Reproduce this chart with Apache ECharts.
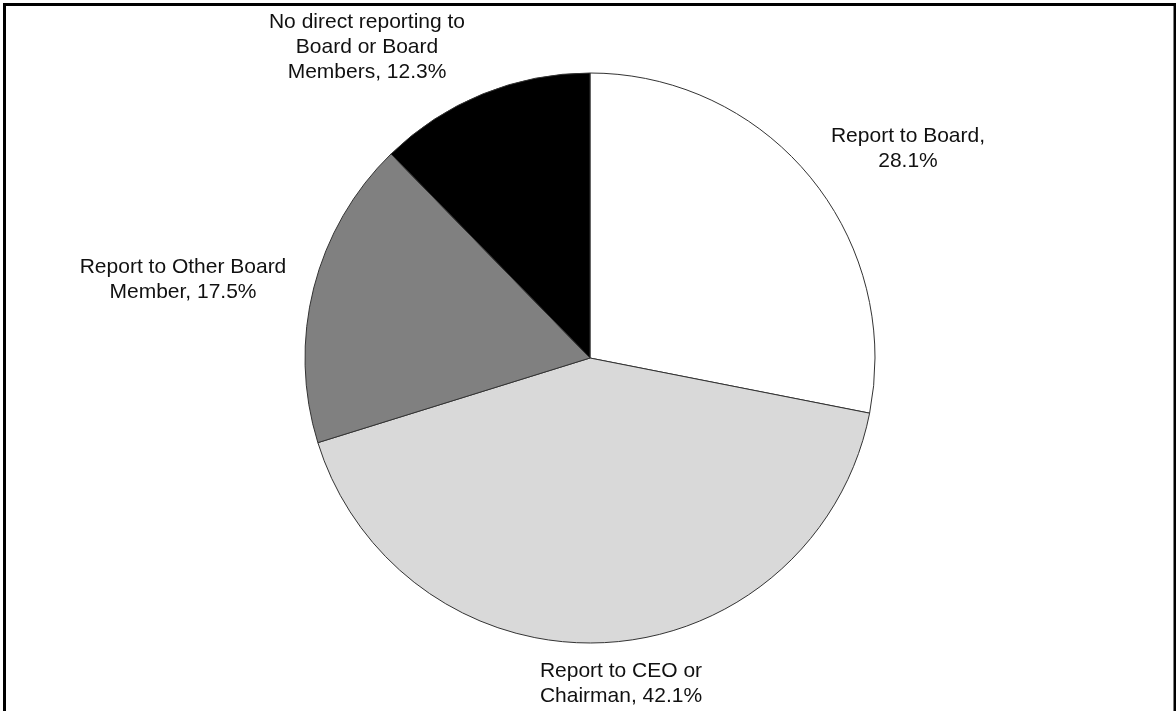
<!DOCTYPE html>
<html>
<head>
<meta charset="utf-8">
<script src="https://cdn.jsdelivr.net/npm/echarts@6/dist/echarts.min.js"></script>
<style>
html,body{margin:0;padding:0;background:#fff;}
#chart{width:1176px;height:711px;}
</style>
</head>
<body>
<div id="chart"></div>
<script>
// Data
var categories = [
  'Report to Board',
  'Report to CEO or Chairman',
  'Report to Other Board Member',
  'No direct reporting to Board or Board Members'
];
var values = [28.1, 42.1, 17.5, 12.3];
// Label text broken into lines as in the reference (value appended)
var labelPrefixes = [
  'Report to Board,\n',
  'Report to CEO or\nChairman, ',
  'Report to Other Board\nMember, ',
  'No direct reporting to\nBoard or Board\nMembers, '
];

// Styles
var sliceColors = ['#ffffff', '#d9d9d9', '#808080', '#000000'];
var labelSpots = [[908, 149], [621, 684], [183, 280], [367, 47]];

var chart = echarts.init(document.getElementById('chart'), null, {renderer: 'canvas'});
var option = {
  animation: false,
  backgroundColor: '#ffffff',
  graphic: [{
    type: 'rect',
    shape: {x: 4.5, y: 4.5, width: 1170.5, height: 800},
    style: {fill: 'none', stroke: '#000', lineWidth: 3},
    silent: true
  }],
  series: [{
    type: 'pie',
    center: [590, 358],
    radius: 285,
    startAngle: 90,
    clockwise: true,
    avoidLabelOverlap: false,
    data: categories.map(function (c, i) {
      return {name: c, value: values[i], itemStyle: {color: sliceColors[i]}};
    }),
    itemStyle: {borderColor: '#333', borderWidth: 1},
    emphasis: {disabled: true},
    label: {
      show: true,
      position: 'outside',
      fontFamily: 'Liberation Sans, Arial, sans-serif',
      fontSize: 21,
      lineHeight: 25,
      color: '#111',
      align: 'center',
      formatter: function (p) {
        return labelPrefixes[p.dataIndex] + values[p.dataIndex].toFixed(1) + '%';
      }
    },
    labelLine: {show: false},
    labelLayout: function (p) {
      var s = labelSpots[p.dataIndex];
      return {x: s[0], y: s[1], align: 'center', verticalAlign: 'middle'};
    }
  }]
};
chart.setOption(option);
</script>
</body>
</html>
